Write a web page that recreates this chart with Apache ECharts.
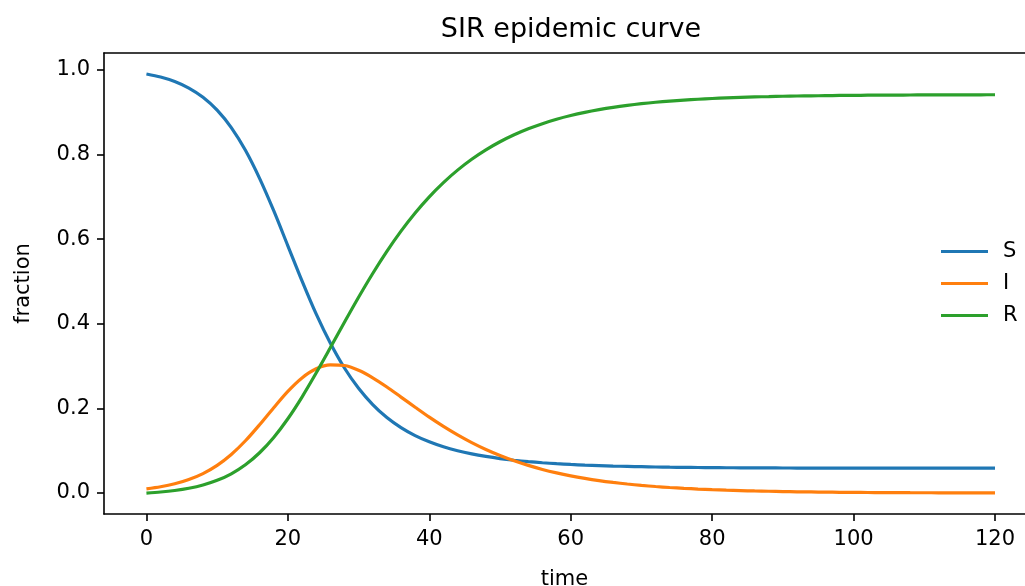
<!DOCTYPE html>
<html>
<head>
<meta charset="utf-8">
<script src="https://cdn.jsdelivr.net/npm/echarts@6/dist/echarts.min.js"></script>
<style>
html,body{margin:0;padding:0;background:#fff;}
#chart{width:1025px;height:586px;}
</style>
</head>
<body>
<div id="chart"></div>
<script>
// time (days)
var time = [0,2,4,6,8,10,12,14,16,18,20,22,24,26,28,30,32,34,36,38,40,42,44,46,48,50,52,54,56,58,60,62,64,66,68,70,72,74,76,78,80,82,84,86,88,90,92,94,96,98,100,102,104,106,108,110,112,114,116,118,120];
var susceptible = [0.9900,0.9828,0.9722,0.9567,0.9350,0.9046,0.8634,0.8097,0.7434,0.6669,0.5841,0.5012,0.4231,0.3543,0.2954,0.2475,0.2090,0.1784,0.1546,0.1357,0.1210,0.1092,0.0999,0.0925,0.0865,0.0815,0.0775,0.0742,0.0716,0.0693,0.0675,0.0660,0.0648,0.0637,0.0629,0.0622,0.0615,0.0610,0.0606,0.0603,0.0600,0.0598,0.0596,0.0594,0.0593,0.0592,0.0591,0.0591,0.0590,0.0590,0.0590,0.0589,0.0589,0.0589,0.0589,0.0589,0.0588,0.0588,0.0588,0.0588,0.0588];
var infected = [0.0100,0.0148,0.0218,0.0320,0.0460,0.0654,0.0911,0.1235,0.1614,0.2017,0.2403,0.2720,0.2935,0.3027,0.3012,0.2900,0.2723,0.2506,0.2267,0.2027,0.1792,0.1574,0.1373,0.1191,0.1029,0.0887,0.0762,0.0653,0.0558,0.0477,0.0407,0.0347,0.0295,0.0251,0.0213,0.0181,0.0154,0.0131,0.0111,0.0094,0.0080,0.0068,0.0058,0.0049,0.0042,0.0035,0.0030,0.0026,0.0022,0.0018,0.0016,0.0013,0.0011,0.0010,0.0008,0.0007,0.0006,0.0005,0.0004,0.0004,0.0003];
var recovered = [0.0000,0.0024,0.0060,0.0113,0.0190,0.0300,0.0455,0.0668,0.0952,0.1314,0.1756,0.2268,0.2834,0.3430,0.4034,0.4625,0.5187,0.5710,0.6187,0.6616,0.6998,0.7334,0.7628,0.7884,0.8106,0.8298,0.8463,0.8605,0.8726,0.8830,0.8918,0.8993,0.9057,0.9112,0.9158,0.9197,0.9231,0.9259,0.9283,0.9303,0.9320,0.9334,0.9346,0.9357,0.9365,0.9373,0.9379,0.9383,0.9388,0.9392,0.9394,0.9398,0.9400,0.9401,0.9403,0.9404,0.9406,0.9407,0.9408,0.9408,0.9409];
var xTicks = [0,20,40,60,80,100,120];
var yTicks = [0,0.2,0.4,0.6,0.8,1.0];
var seriesNames = ['S','I','R'];
var colors = ['#1f77b4','#ff7f0e','#2ca02c'];

function pairs(ys){ return time.map(function(t,i){ return [t, ys[i]]; }); }
var FONT = 'DejaVu Sans';
var spine = {color:'#000', width:1.6};
var chart = echarts.init(document.getElementById('chart'), null, {renderer:'canvas'});
chart.setOption({
  animation:false,
  backgroundColor:'#ffffff',
  textStyle:{fontFamily:FONT},
  title:{
    text:'SIR epidemic curve', left:571, top:16, textAlign:'center', padding:0,
    textStyle:{fontFamily:FONT, fontSize:27, fontWeight:'normal', color:'#000'}
  },
  grid:{left:104, top:53, right:0, bottom:72, show:false, containLabel:false, outerBoundsMode:'none'},
  legend:{
    orient:'vertical', left:941, top:241, padding:0, itemGap:11,
    itemWidth:47, itemHeight:3, icon:'rect',
    data:seriesNames,
    textStyle:{fontFamily:FONT, fontSize:21, color:'#000', padding:[0,0,0,10]}
  },
  xAxis:[{
    type:'value', min:-6, max:124.24, position:'bottom',
    name:'time', nameLocation:'middle', nameGap:55,
    nameTextStyle:{fontFamily:FONT, fontSize:21, color:'#000'},
    axisLine:{show:true, onZero:false, lineStyle:spine},
    axisTick:{show:true, inside:false, length:7, customValues:xTicks, lineStyle:spine},
    axisLabel:{show:true, margin:15, customValues:xTicks, fontFamily:FONT, fontSize:21, color:'#000'},
    splitLine:{show:false}
  },{
    type:'value', min:-6, max:124.24, position:'top',
    axisLine:{show:true, onZero:false, lineStyle:spine},
    axisTick:{show:false}, axisLabel:{show:false}, splitLine:{show:false}
  }],
  yAxis:{
    type:'value', min:-0.0495, max:1.0395,
    name:'fraction', nameLocation:'middle', nameGap:70, nameRotate:90,
    nameTextStyle:{fontFamily:FONT, fontSize:21, color:'#000'},
    axisLine:{show:true, onZero:false, lineStyle:spine},
    axisTick:{show:true, inside:false, length:7, customValues:yTicks, lineStyle:spine},
    axisLabel:{show:true, margin:14, customValues:yTicks, fontFamily:FONT, fontSize:21, color:'#000',
      formatter:function(v){ return v.toFixed(1); }},
    splitLine:{show:false}
  },
  series:[
    {name:seriesNames[0], type:'line', data:pairs(susceptible), showSymbol:false, smooth:0.3, color:colors[0], lineStyle:{width:3.2, color:colors[0]}},
    {name:seriesNames[1], type:'line', data:pairs(infected), showSymbol:false, smooth:0.3, color:colors[1], lineStyle:{width:3.2, color:colors[1]}},
    {name:seriesNames[2], type:'line', data:pairs(recovered), showSymbol:false, smooth:0.3, color:colors[2], lineStyle:{width:3.2, color:colors[2]}}
  ]
});
</script>
</body>
</html>
